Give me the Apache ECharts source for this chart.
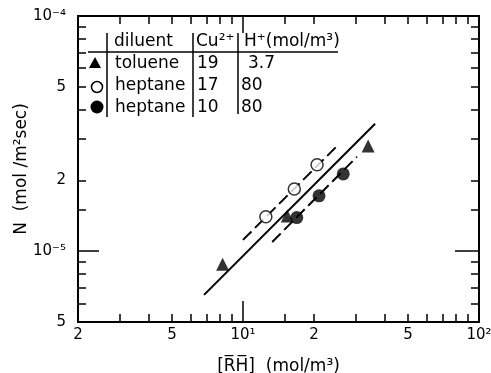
<!DOCTYPE html>
<html>
<head>
<meta charset="utf-8">
<script src="https://cdn.jsdelivr.net/npm/echarts@6/dist/echarts.min.js"></script>
<style>
  html, body { margin: 0; padding: 0; background: #fff; }
  #chart { width: 491px; height: 373px; }
</style>
</head>
<body>
<div id="chart"></div>
<script>
// toluene, Cu2+ 19, H+ 3.7 (filled triangles)
const tolueneRH = [8.2, 15.4, 33.9]
const tolueneN = [8.8e-6, 1.41e-5, 2.8e-5]
// heptane, Cu2+ 17, H+ 80 (open circles)
const heptOpenRH = [12.5, 16.5, 20.6]
const heptOpenN = [1.40e-5, 1.84e-5, 2.33e-5]
// heptane, Cu2+ 10, H+ 80 (filled circles)
const heptFillRH = [16.9, 21, 26.6]
const heptFillN = [1.39e-5, 1.72e-5, 2.13e-5]

// fitted lines, end points
const solidRH = [6.84, 36.3]
const solidN = [6.52e-6, 3.48e-5]
const upperRH = [10.0, 25.3]
const upperN = [1.117e-5, 2.83e-5]
const lowerRH = [13.3, 30.4]
const lowerN = [1.095e-5, 2.52e-5]

// axes
const xMin = 2, xMax = 100
const yMin = 5e-6, yMax = 1e-4
const xMinorTicks = [3, 4, 5, 6, 7, 8, 9, 15, 20, 30, 40, 50, 60, 70, 80, 90]
const xMajorTicks = [10]
const xTickLabels = [2, 5, 10, 20, 50, 100]
const yMinorTicks = [6e-6, 7e-6, 8e-6, 9e-6, 1.5e-5, 2e-5, 3e-5, 4e-5, 5e-5, 6e-5, 7e-5, 8e-5, 9e-5]
const yMajorTicks = [1e-5]
const yTickLabels = [5e-6, 1e-5, 2e-5, 5e-5, 1e-4]

const FONT = "'DejaVu Sans', sans-serif"
const sup = { '1': '¹', '2': '²', '-4': '⁻⁴', '-5': '⁻⁵' }

function pairs(xs, ys) {
  return xs.map((x, i) => [x, ys[i]])
}

function logLabel(v) {
  const e = Math.floor(v + 1e-6)
  const m = Math.round(Math.pow(10, v - e))
  if (m === 1 && e !== 0) return '10' + sup[String(e)]
  return String(m)
}

// extra value axes in log10 space, only used to draw ticks and labels
function tickAxis(kind, pos, ticks, len, labels, extra) {
  const ext = kind === 'x' ? [Math.log10(xMin), Math.log10(xMax)] : [Math.log10(yMin), Math.log10(yMax)]
  return Object.assign({
    type: 'value',
    position: pos,
    min: ext[0],
    max: ext[1],
    axisLine: { show: false, onZero: false },
    splitLine: { show: false },
    axisTick: {
      show: true,
      inside: true,
      length: len,
      customValues: ticks.map(Math.log10),
      lineStyle: { color: '#000', width: 1.5 }
    },
    axisLabel: labels ? {
      show: true,
      customValues: labels.map(Math.log10),
      formatter: logLabel,
      color: '#000',
      fontFamily: FONT,
      fontSize: 15,
      margin: kind === 'x' ? 6 : 12
    } : { show: false }
  }, extra || {})
}

const chart = echarts.init(document.getElementById('chart'))

const hiddenLog = (min, max, pos) => ({
  type: 'log',
  logBase: 10,
  min: min,
  max: max,
  position: pos,
  axisLine: { show: false, onZero: false },
  axisTick: { show: false },
  axisLabel: { show: false },
  splitLine: { show: false }
})

let option = {
  animation: false,
  grid: {
    left: 78,
    right: 12,
    top: 16,
    bottom: 51,
    outerBoundsMode: 'none',
    containLabel: false,
    show: true,
    borderColor: '#000',
    borderWidth: 2
  },
  xAxis: [
    hiddenLog(xMin, xMax, 'bottom'),
    tickAxis('x', 'bottom', xMinorTicks, 8, xTickLabels),
    tickAxis('x', 'bottom', xMajorTicks, 21, null, {
      name: '[R\u0305H\u0305]  (mol/m³)',
      nameLocation: 'middle',
      nameGap: 36,
      nameTextStyle: { fontFamily: FONT, fontSize: 17, color: '#000' }
    }),
    tickAxis('x', 'top', xMinorTicks, 8),
    tickAxis('x', 'top', xMajorTicks, 17)
  ],
  yAxis: [
    hiddenLog(yMin, yMax, 'left'),
    tickAxis('y', 'left', yMinorTicks, 8, yTickLabels),
    tickAxis('y', 'left', yMajorTicks, 21),
    tickAxis('y', 'right', yMinorTicks, 8),
    tickAxis('y', 'right', yMajorTicks, 24)
  ],
  series: [
    {
      type: 'line',
      data: pairs(solidRH, solidN),
      symbol: 'none',
      lineStyle: { color: '#000', width: 2, type: 'solid' },
      z: 2
    },
    {
      type: 'line',
      data: pairs(upperRH, upperN),
      symbol: 'none',
      lineStyle: { color: '#000', width: 2, type: [12, 5] },
      z: 2
    },
    {
      type: 'line',
      data: pairs(lowerRH, lowerN),
      symbol: 'none',
      lineStyle: { color: '#000', width: 2, type: [12, 5] },
      z: 2
    },
    {
      name: 'toluene',
      type: 'scatter',
      data: pairs(tolueneRH, tolueneN),
      symbol: 'triangle',
      symbolSize: 13,
      itemStyle: { color: '#000' },
      z: 5
    },
    {
      name: 'heptane 17',
      type: 'scatter',
      data: pairs(heptOpenRH, heptOpenN),
      symbol: 'circle',
      symbolSize: 12,
      itemStyle: { color: '#fff', borderColor: '#000', borderWidth: 1.5 },
      z: 5
    },
    {
      name: 'heptane 10',
      type: 'scatter',
      data: pairs(heptFillRH, heptFillN),
      symbol: 'circle',
      symbolSize: 13,
      itemStyle: { color: '#000' },
      z: 5
    }
  ],
  graphic: []
}

// legend table in the upper left corner
const txt = (x, y, s) => ({
  type: 'text',
  x: x,
  y: y,
  style: { text: s, fill: '#000', font: '17px ' + FONT, textVerticalAlign: 'middle' },
  z: 10
})
const ln = (x1, y1, x2, y2) => ({
  type: 'line',
  shape: { x1: x1, y1: y1, x2: x2, y2: y2 },
  style: { stroke: '#000', lineWidth: 1.5 },
  z: 10
})

option.graphic = [
  // y axis title
  {
    type: 'text',
    x: 22,
    y: 169,
    rotation: Math.PI / 2,
    style: {
      text: 'N  (mol /m²sec)',
      fill: '#000',
      font: '17px ' + FONT,
      textAlign: 'center',
      textVerticalAlign: 'middle'
    }
  },
  ln(88, 52, 338, 52),
  ln(107, 33, 107, 117),
  ln(193, 33, 193, 117),
  ln(238, 33, 238, 114),
  txt(114, 42, 'diluent'),
  txt(196, 42, 'Cu²⁺'),
  txt(244, 42, 'H⁺(mol/m³)'),
  txt(115, 64, 'toluene'),
  txt(197, 64, '19'),
  txt(248, 64, '3.7'),
  txt(115, 86, 'heptane'),
  txt(197, 86, '17'),
  txt(241, 86, '80'),
  txt(115, 108, 'heptane'),
  txt(197, 108, '10'),
  txt(241, 108, '80'),
  {
    type: 'polygon',
    shape: { points: [[95, 57], [101, 68], [89, 68]] },
    style: { fill: '#000' },
    z: 10
  },
  {
    type: 'circle',
    shape: { cx: 97, cy: 87, r: 5.5 },
    style: { fill: '#fff', stroke: '#000', lineWidth: 1.5 },
    z: 10
  },
  {
    type: 'circle',
    shape: { cx: 97, cy: 107, r: 6.5 },
    style: { fill: '#000' },
    z: 10
  }
]

option && chart.setOption(option)
</script>
</body>
</html>
